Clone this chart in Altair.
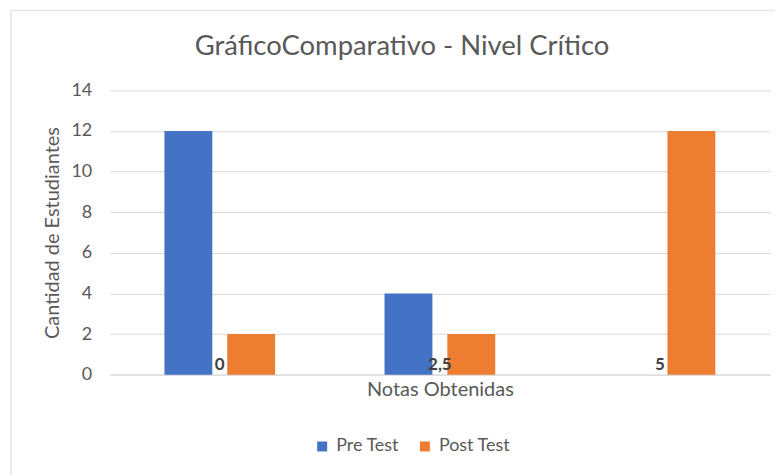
import altair as alt
import pandas as pd

categories = ["0", "2,5", "5"]
pre_test = [12, 4, 0]
post_test = [2, 2, 12]
series = ["Pre Test", "Post Test"]
colors = ["#4472C4", "#ED7D31"]
title_text = "GráficoComparativo - Nivel Crítico"

rows = []
for c, p, q in zip(categories, pre_test, post_test):
    rows.append({"Nota": c, "Serie": series[0], "Cantidad": p})
    rows.append({"Nota": c, "Serie": series[1], "Cantidad": q})
df = pd.DataFrame(rows)
lab = pd.DataFrame({"Nota": categories})
tdf = pd.DataFrame({"t": [title_text]})

FONT = "Lato"
GRAY = "#595959"

xscale = alt.Scale(domain=categories, paddingInner=0.497, paddingOuter=0.2485)

border = alt.Chart(tdf).mark_rect(fill=None, stroke="#e6e6e6", strokeWidth=1.5).encode(
    x=alt.value(-99), x2=alt.value(700), y=alt.value(-80), y2=alt.value(420)
)

title = alt.Chart(tdf).mark_text(font=FONT, fontSize=27.5, color=GRAY,
                                 baseline="middle", align="center").encode(
    x=alt.value(293), y=alt.value(-43), text="t:N"
)

bars = alt.Chart(df).mark_bar().encode(
    x=alt.X("Nota:N", scale=xscale, sort=categories,
            axis=alt.Axis(labels=False, ticks=False, domain=True, domainColor="#d9d9d9",
                          title="Notas Obtenidas", titleFont=FONT, titleFontSize=20,
                          titleFontWeight="normal", titleColor=GRAY, titlePadding=5)),
    xOffset=alt.XOffset("Serie:N", sort=series,
                        scale=alt.Scale(domain=series, paddingInner=0.238)),
    y=alt.Y("Cantidad:Q", scale=alt.Scale(domain=[0, 14]),
            axis=alt.Axis(values=[0, 2, 4, 6, 8, 10, 12, 14], ticks=False, domain=False,
                          gridColor="#d9d9d9", labelFont=FONT, labelFontSize=18,
                          labelColor=GRAY, labelPadding=18,
                          title="Cantidad de Estudiantes", titleFont=FONT,
                          titleFontSize=20, titleFontWeight="normal", titleColor=GRAY,
                          titlePadding=8)),
    color=alt.Color("Serie:N", sort=series,
                    scale=alt.Scale(domain=series, range=colors),
                    legend=alt.Legend(title=None, orient="none", direction="horizontal",
                                      legendX=204, legendY=348, symbolType="square",
                                      symbolSize=100, symbolStrokeWidth=0,
                                      labelFont=FONT, labelFontSize=18, labelColor=GRAY,
                                      columnPadding=16, labelOffset=5)),
)

labels = alt.Chart(lab).mark_text(font=FONT, fontSize=17, fontWeight="bold",
                                  color="#404040", baseline="bottom", dy=-1).encode(
    x=alt.X("Nota:N", scale=xscale, sort=categories),
    y=alt.datum(0),
    text="Nota:N",
)

chart = alt.layer(border, title, bars, labels).properties(
    width=662, height=285,
    autosize=alt.AutoSizeParams(type="none"),
    padding={"left": 102, "top": 82, "right": 5, "bottom": 100},
).configure_view(stroke=None)

chart.save("out.html", embed_options={"renderer": "svg", "actions": False})
